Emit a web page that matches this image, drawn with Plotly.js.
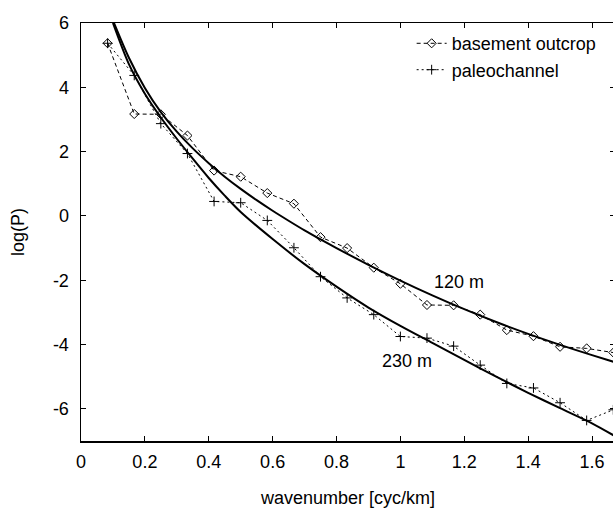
<!DOCTYPE html>
<html>
<head>
<meta charset="utf-8">
<script src="https://cdn.plot.ly/plotly-3.0.1.min.js"></script>
<style>
html,body{margin:0;padding:0;background:#fff;overflow:hidden;}
#wrap{width:613px;height:508px;overflow:hidden;position:relative;}
#chart{width:615px;height:508px;}
</style>
</head>
<body>
<div id="wrap"><div id="chart"></div></div>
<script>
// wavenumber samples (cyc/km)
var wavenumber = [0.0833,0.1667,0.25,0.3333,0.4167,0.5,0.5833,0.6667,0.75,0.8333,0.9167,1.0,1.0833,1.1667,1.25,1.3333,1.4167,1.5,1.5833,1.6667];
var basementOutcrop = [5.37,3.17,3.16,2.50,1.41,1.22,0.71,0.38,-0.66,-1.00,-1.61,-2.11,-2.77,-2.78,-3.07,-3.55,-3.74,-4.07,-4.12,-4.25];
var paleochannel = [5.37,4.37,2.87,1.94,0.45,0.41,-0.14,-0.99,-1.89,-2.55,-3.07,-3.75,-3.80,-4.05,-4.64,-5.21,-5.35,-5.81,-6.36,-6.03];

// model curves
var modelX120 = [0.10,0.15,0.20,0.25,0.30,0.35,0.40,0.45,0.50,0.55,0.60,0.65,0.70,0.75,0.80,0.90,1.00,1.10,1.20,1.30,1.40,1.50,1.60,1.672];
var modelY120 = [6.08,4.92,3.98,3.23,2.62,2.10,1.64,1.22,0.84,0.49,0.16,-0.15,-0.45,-0.73,-1.00,-1.52,-2.01,-2.47,-2.90,-3.30,-3.67,-4.01,-4.33,-4.55];
var modelX230 = [0.10,0.15,0.20,0.25,0.30,0.35,0.40,0.45,0.50,0.60,0.70,0.80,0.90,1.00,1.10,1.20,1.30,1.40,1.50,1.60,1.672];
var modelY230 = [6.00,4.72,3.80,3.06,2.40,1.78,1.18,0.63,0.12,-0.72,-1.50,-2.20,-2.85,-3.42,-3.95,-4.48,-5.00,-5.50,-5.98,-6.45,-6.85];

var curveLabels = ["120 m","230 m"];
var labelX = [1.183,1.020];
var labelY = [-2.05,-4.52];

var xTickVals = [0,0.2,0.4,0.6,0.8,1,1.2,1.4,1.6];
var xTickText = ["0","0.2","0.4","0.6","0.8","1","1.2","1.4","1.6"];
var yTickVals = [6,4,2,0,-2,-4,-6];
var yTickText = ["6","4","2","0","-2","-4","-6"];

var font = "Liberation Sans, Arial, Helvetica, sans-serif";

var traces = [
  {x: wavenumber, y: basementOutcrop, name: "basement outcrop", mode: "lines+markers",
   line: {color: "#000", width: 1, dash: "4px,3px"},
   marker: {symbol: "diamond-open", size: 7, color: "#000", line: {width: 1, color: "#000"}}},
  {x: wavenumber, y: paleochannel, name: "paleochannel", mode: "lines+markers",
   line: {color: "#000", width: 1, dash: "2px,3px"},
   marker: {symbol: "cross-thin", size: 7, color: "#000", line: {width: 1, color: "#000"}}},
  {x: modelX120, y: modelY120, name: curveLabels[0], mode: "lines", showlegend: false,
   line: {color: "#000", width: 2, shape: "spline", smoothing: 0.8}},
  {x: modelX230, y: modelY230, name: curveLabels[1], mode: "lines", showlegend: false,
   line: {color: "#000", width: 2, shape: "spline", smoothing: 0.8}}
];

var annotations = curveLabels.map(function(t, i){
  return {x: labelX[i], y: labelY[i], xref: "x", yref: "y", text: t, showarrow: false,
          font: {family: font, size: 18, color: "#000"}};
});

var axisCommon = {
  showgrid: false, zeroline: false, showline: true, linecolor: "#000", linewidth: 1.5,
  ticks: "inside", ticklen: 5, tickwidth: 1, tickcolor: "#000", mirror: "ticks",
  tickfont: {family: font, size: 18, color: "#000"}
};

var layout = {
  width: 615, height: 508,
  margin: {l: 81, r: 0, t: 23, b: 67},
  paper_bgcolor: "#fff", plot_bgcolor: "#fff",
  showlegend: true,
  legend: {x: 0.975, xanchor: "right", y: 0.995, yanchor: "top", bgcolor: "rgba(0,0,0,0)",
           font: {family: font, size: 18, color: "#000"}, tracegroupgap: 0},
  xaxis: Object.assign({}, axisCommon, {
    range: [0, 1.672], tickmode: "array", tickvals: xTickVals, ticktext: xTickText,
    ticklabelstandoff: 4,
    title: {text: "wavenumber [cyc/km]", font: {family: font, size: 18, color: "#000"}, standoff: 29}
  }),
  yaxis: Object.assign({}, axisCommon, {
    range: [-7, 6], tickmode: "array", tickvals: yTickVals, ticktext: yTickText,
    ticklabelstandoff: 7,
    title: {text: "log(P)", font: {family: font, size: 18, color: "#000"}, standoff: 23}
  }),
  annotations: annotations,
  hovermode: false
};

Plotly.newPlot("chart", traces, layout, {staticPlot: true, displayModeBar: false});
</script>
</body>
</html>
